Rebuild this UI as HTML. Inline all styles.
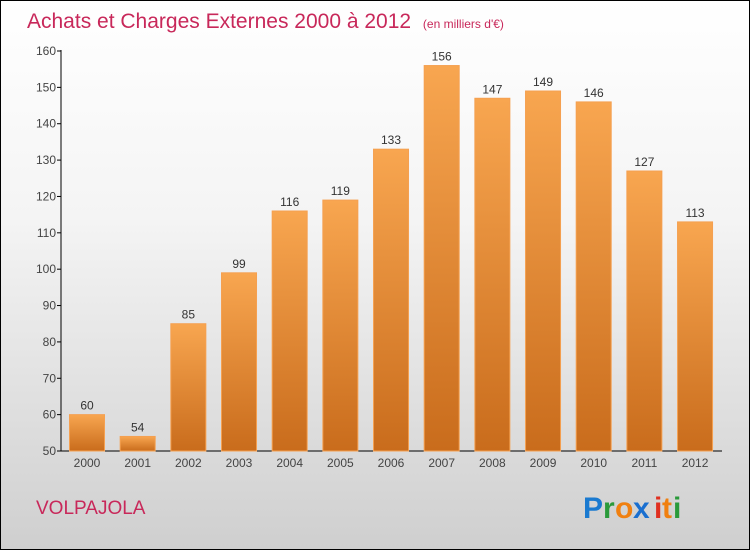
<!DOCTYPE html>
<html><head><meta charset="utf-8"><style>
body{margin:0}
#c{position:relative;width:748px;height:548px;border:1px solid #000;background:linear-gradient(#fff,#f4f4f4 40%,#cfcfcf);font-family:"Liberation Sans",sans-serif;overflow:hidden}
</style></head><body>
<div id="c">
<svg id="s" width="748" height="548" style="position:absolute;left:0;top:0">
<defs><linearGradient id="g" x1="0" y1="0" x2="0" y2="1"><stop offset="0" stop-color="#f8a650"/><stop offset="1" stop-color="#c96c1c"/></linearGradient></defs>
<text x="26" y="27" font-size="21" fill="#c8285a">Achats et Charges Externes 2000 à 2012 <tspan font-size="12" dx="6">(en milliers d'€)</tspan></text>
<text x="35" y="513" font-size="19" fill="#c8285a">VOLPAJOLA</text>
<g font-size="30" font-weight="bold" font-family="'Liberation Sans',sans-serif">
<text x="582" y="517" fill="#1a7ad0">P</text><text x="602" y="517" fill="#2a9a3a">r</text><text x="614" y="517" fill="#f08010">o</text><text x="632" y="517" fill="#1a6fd0">x</text><text x="653" y="517" fill="#e03020">i</text><text x="661" y="517" fill="#f08010">t</text><text x="672" y="517" fill="#2a9a3a">i</text></g>
<g id="axes"></g><g id="bars"></g>
</svg></div>
<script>
const years=["2000","2001","2002","2003","2004","2005","2006","2007","2008","2009","2010","2011","2012"];
const values=[60,54,85,99,116,119,133,156,147,149,146,127,113];
const yTicks=[50,60,70,80,90,100,110,120,130,140,150,160];
const NS="http://www.w3.org/2000/svg";
function y(v){return 450-(v-50)*400/110;}
function x(i){return 86+i*50.67;}
function mk(t,a,p,txt){const e=document.createElementNS(NS,t);for(const k in a)e.setAttribute(k,a[k]);if(txt!=null)e.textContent=txt;p.appendChild(e);return e;}
const ax=document.getElementById('axes'),bs=document.getElementById('bars');
let l=mk('line',{x1:60,y1:49,x2:60,y2:450,stroke:'#000'},ax);


l=mk('line',{x1:60,y1:450,x2:721,y2:450,stroke:'#000'},ax);


yTicks.forEach(v=>{
 mk('line',{x1:56,x2:60,y1:y(v),y2:y(v),stroke:'#000'},ax);
 const t=mk('text',{x:55,y:y(v)+4,'text-anchor':'end','font-size':12,fill:'#444'},ax,v);
 
 
});
years.forEach((yr,i)=>{
 const v=values[i];
 const r=mk('rect',{x:x(i)-17.5,y:y(v),width:35,height:450-y(v),fill:'url(#g)',stroke:'#f5a050','stroke-width':1},bs);
 
 
 const t=mk('text',{x:x(i),y:y(v)-5,'text-anchor':'middle','font-size':12,fill:'#333'},bs,v);
 
 
 const xl=mk('text',{x:x(i),y:466,'text-anchor':'middle','font-size':12,fill:'#444'},ax,yr);
 
 
});
</script>
</body></html>
